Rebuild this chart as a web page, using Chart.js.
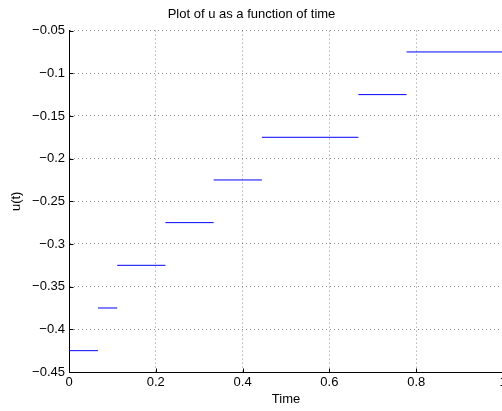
<!DOCTYPE html>
<html>
<head>
<meta charset="utf-8">
<script src="https://cdn.jsdelivr.net/npm/chart.js@4/dist/chart.umd.min.js"></script>
<style>
  html, body { margin: 0; padding: 0; overflow: hidden; background: #fff; }
  #wrap { width: 520px; height: 411px; }
</style>
</head>
<body>
<div id="wrap"><canvas id="c" width="520" height="411"></canvas></div>
<script>
// Piecewise-constant control u(t): each level holds between two switching times
const switchTimes = [0, 0.0667, 0.1111, 0.2222, 0.3333, 0.4444, 0.6667, 0.7778, 1];
const levels = [-0.425, -0.375, -0.325, -0.275, -0.225, -0.175, -0.125, -0.075];

const xTickValues = [0, 0.2, 0.4, 0.6, 0.8, 1];
const xTickLabels = ['0', '0.2', '0.4', '0.6', '0.8', '1'];
const yTickValues = [-0.45, -0.4, -0.35, -0.3, -0.25, -0.2, -0.15, -0.1, -0.05];
const yTickLabels = ['\u22120.45', '\u22120.4', '\u22120.35', '\u22120.3', '\u22120.25',
                     '\u22120.2', '\u22120.15', '\u22120.1', '\u22120.05'];

// One horizontal segment per level, separated by gaps
const points = [];
for (let i = 0; i < levels.length; i++) {
  points.push({ x: switchTimes[i], y: levels[i] });
  points.push({ x: switchTimes[i + 1], y: levels[i] });
  points.push({ x: switchTimes[i + 1], y: null });
}

const FONT = 'Liberation Sans, Arial, Helvetica, sans-serif';

// Short tick marks pointing into the plot area on the left and bottom axes
const inwardTicks = {
  id: 'inwardTicks',
  afterDraw(chart) {
    const { ctx, chartArea, scales } = chart;
    const len = 4;
    ctx.save();
    ctx.strokeStyle = '#000';
    ctx.lineWidth = 1;
    ctx.beginPath();
    xTickValues.forEach(v => {
      const px = Math.round(scales.x.getPixelForValue(v)) + 0.5;
      const by = Math.round(chartArea.bottom) + 0.5;
      ctx.moveTo(px, by);
      ctx.lineTo(px, by - len);
    });
    yTickValues.forEach(v => {
      const py = Math.round(scales.y.getPixelForValue(v)) + 0.5;
      const lx = Math.round(chartArea.left) + 0.5;
      ctx.moveTo(lx, py);
      ctx.lineTo(lx + len, py);
    });
    ctx.stroke();
    ctx.restore();
  }
};

new Chart(document.getElementById('c'), {
  type: 'line',
  data: {
    datasets: [{
      data: points,
      borderColor: '#0000ff',
      borderWidth: 1,
      pointRadius: 0,
      spanGaps: false,
      tension: 0
    }]
  },
  options: {
    responsive: false,
    animation: false,
    devicePixelRatio: 1,
    layout: { padding: { left: 0, right: 17, top: 0, bottom: 0 } },
    plugins: {
      legend: { display: false },
      tooltip: { enabled: false },
      title: {
        display: true,
        text: 'Plot of u as a function of time',
        color: '#000',
        font: { family: FONT, size: 13, weight: 'normal' },
        padding: { top: 7, bottom: 8 }
      }
    },
    scales: {
      x: {
        type: 'linear',
        min: 0,
        max: 1,
        afterBuildTicks(scale) { scale.ticks = xTickValues.map(v => ({ value: v })); },
        afterFit(scale) { scale.height = 39; },
        ticks: {
          color: '#000',
          font: { family: FONT, size: 13 },
          padding: 3,
          maxRotation: 0,
          callback(value) {
            const i = xTickValues.findIndex(v => Math.abs(v - value) < 1e-9);
            return i >= 0 ? xTickLabels[i] : '';
          }
        },
        grid: { color: 'rgba(0,0,0,0.45)', lineWidth: 1, drawTicks: false },
        border: { display: true, color: '#000', width: 1, dash: [1, 3] },
        title: {
          display: true,
          text: 'Time',
          color: '#000',
          font: { family: FONT, size: 13 },
          padding: { top: 0, bottom: 4 }
        }
      },
      y: {
        type: 'linear',
        min: -0.45,
        max: -0.05,
        afterBuildTicks(scale) { scale.ticks = yTickValues.map(v => ({ value: v })); },
        afterFit(scale) { scale.width = 69; },
        ticks: {
          color: '#000',
          font: { family: FONT, size: 13 },
          padding: 4,
          callback(value) {
            const i = yTickValues.findIndex(v => Math.abs(v - value) < 1e-9);
            return i >= 0 ? yTickLabels[i] : '';
          }
        },
        grid: { color: 'rgba(0,0,0,0.45)', lineWidth: 1, drawTicks: false },
        border: { display: true, color: '#000', width: 1, dash: [1, 3] },
        title: {
          display: true,
          text: 'u(t)',
          color: '#000',
          font: { family: FONT, size: 13 },
          padding: { top: 9, bottom: 0 }
        }
      }
    }
  },
  plugins: [inwardTicks]
});
</script>
</body>
</html>
